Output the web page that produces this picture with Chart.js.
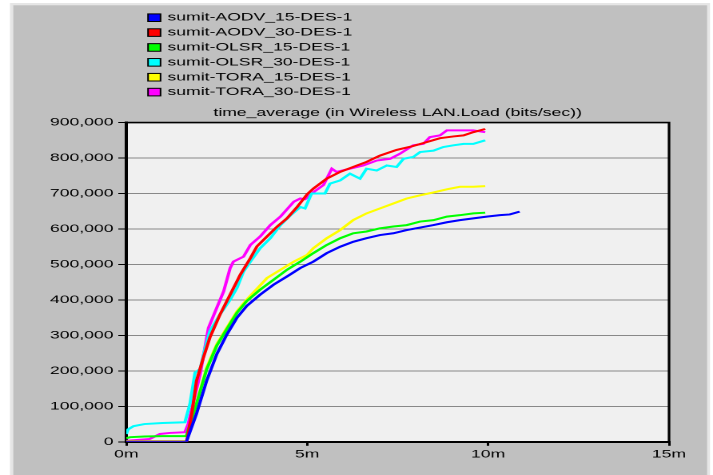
<!DOCTYPE html>
<html><head><meta charset="utf-8">
<script src="https://cdn.jsdelivr.net/npm/chart.js@4"></script>
<style>
html,body{margin:0;padding:0;background:#fff;width:713px;height:475px;overflow:hidden}
#wrap{width:446px;height:475px;transform:scaleX(1.59865);transform-origin:0 0}
canvas{display:block}
</style></head><body>
<div id="wrap"><canvas id="c" width="446" height="475" style="width:446px;height:475px"></canvas></div>
<script>
// ---- data (time in minutes, load in bits/sec) ----
const seriesLabels = ['sumit-AODV_15-DES-1','sumit-AODV_30-DES-1','sumit-OLSR_15-DES-1','sumit-OLSR_30-DES-1','sumit-TORA_15-DES-1','sumit-TORA_30-DES-1'];
const seriesColors = ['#0000ff','#ff0000','#00ff00','#00ffff','#ffff00','#ff00ff'];

const aodv15T = [0,1.66,1.94,2.22,2.5,2.78,3.06,3.33,3.70,4.07,4.44,4.81,5.17,5.54,5.91,6.27,6.64,7.01,7.38,7.75,8.12,8.49,8.86,9.22,9.59,9.96,10.33,10.6,10.87];
const aodv15V = [0,0,79000,172000,247000,303000,350000,383000,415000,443000,466000,490000,508000,532000,550000,564000,574000,583000,588000,597000,604000,611000,619000,625000,630000,635000,639000,641000,649000];

const aodv30T = [0,1.67,1.81,1.94,2.13,2.31,2.59,2.87,3.15,3.43,3.61,3.89,4.17,4.44,4.72,5.0,5.17,5.54,5.91,6.27,6.64,7.01,7.47,7.93,8.30,8.67,9.04,9.32,9.59,9.92];
const aodv30V = [0,0,79000,172000,237000,294000,359000,415000,471000,518000,551000,579000,607000,630000,662000,698000,714000,742000,761000,775000,789000,807000,823000,834000,845000,856000,861000,864000,873000,882000];

const olsr15T = [0,0.1,0.5,1.0,1.66,1.94,2.22,2.5,2.78,3.06,3.33,3.70,4.07,4.44,4.81,5.17,5.54,5.91,6.27,6.64,7.01,7.38,7.75,8.12,8.49,8.86,9.22,9.59,9.92];
const olsr15V = [10000,13000,15000,16000,16000,107000,204000,271000,318000,364000,397000,429000,457000,485000,508000,532000,555000,574000,588000,593000,602000,607000,611000,621000,625000,635000,639000,644000,646000];

const olsr30T = [0,0.05,0.2,0.5,1.0,1.62,1.76,1.90,2.04,2.18,2.31,2.59,2.87,3.06,3.24,3.43,3.70,3.98,4.26,4.54,4.81,4.94,5.12,5.49,5.63,5.91,6.18,6.46,6.64,6.92,7.20,7.47,7.66,7.93,8.12,8.49,8.76,9.04,9.32,9.59,9.92];
const olsr30V = [22000,35000,44000,50000,53000,55000,107000,195000,205000,265000,312000,359000,401000,434000,480000,508000,546000,574000,611000,639000,662000,658000,700000,700000,728000,737000,756000,742000,770000,765000,779000,775000,798000,803000,817000,821000,831000,836000,840000,840000,850000];

const tora15T = [0,1.66,1.94,2.22,2.5,2.78,3.06,3.33,3.80,3.89,4.26,4.63,5.0,5.17,5.54,5.91,6.27,6.64,7.01,7.38,7.75,8.12,8.49,8.86,9.22,9.59,9.92];
const tora15V = [2000,2000,107000,209000,275000,322000,368000,401000,452000,462000,485000,508000,527000,546000,574000,597000,625000,644000,658000,672000,686000,695000,703000,712000,719000,719000,721000];

const tora30T = [0,0.65,0.93,1.2,1.62,1.71,2.04,2.27,2.5,2.69,2.87,2.96,3.24,3.43,3.70,3.98,4.26,4.63,4.81,4.94,5.19,5.45,5.68,5.81,6.18,6.55,6.92,7.29,7.56,7.93,8.21,8.39,8.67,8.86,9.13,9.59,9.92];
const tora30V = [3000,8000,22000,25000,27000,50000,190000,321000,378000,424000,490000,508000,522000,555000,579000,611000,635000,677000,686000,684000,705000,724000,770000,761000,770000,779000,793000,798000,812000,836000,840000,859000,864000,878000,878000,878000,873000];

const xTickValues = [0,5,10,15];
const xTickSuffix = 'm';
const yTickStep = 100000;
const yMax = 900000;
const xMax = 15;
const chartTitle = 'time_average (in Wireless LAN.Load (bits/sec))';

// ---- build ----
const seriesT = [aodv15T,aodv30T,olsr15T,olsr30T,tora15T,tora30T];
const seriesV = [aodv15V,aodv30V,olsr15V,olsr30V,tora15V,tora30V];
const datasets = seriesLabels.map((lab,i)=>({
  label: lab,
  data: seriesT[i].map((t,j)=>({x:t,y:seriesV[i][j]})),
  borderColor: seriesColors[i],
  backgroundColor: seriesColors[i],
  borderWidth: 2,
  pointRadius: 0,
  tension: 0,
  fill: false
}));

const FONT = "'Liberation Sans', Arial, sans-serif";
Chart.defaults.font.family = FONT;
Chart.defaults.font.size = 11;
Chart.defaults.color = '#000';

const panelPlugin = {
  id: 'panel',
  beforeDraw(chart){
    const ctx = chart.ctx, W = chart.width, H = chart.height, S = 1.59865;
    ctx.save();
    ctx.fillStyle = '#ffffff'; ctx.fillRect(0,0,W,H);
    ctx.fillStyle = '#e6e6e6'; ctx.fillRect(10/S,3,(710-10)/S,H-3);
    ctx.fillStyle = '#c0c0c0'; ctx.fillRect(13.3/S,5.3,(707-13.3)/S,H-5.3);
    const a = chart.chartArea;
    ctx.fillStyle = '#f0f0f0'; ctx.fillRect(a.left,a.top,a.right-a.left,a.bottom-a.top);
    ctx.restore();
  },
  afterDatasetsDraw(chart){
    const ctx = chart.ctx, a = chart.chartArea;
    ctx.save();
    ctx.strokeStyle = '#000'; ctx.lineWidth = 1.6;
    ctx.beginPath();
    ctx.moveTo(a.left, a.top); ctx.lineTo(a.right, a.top); ctx.lineTo(a.right, a.bottom);
    ctx.stroke();
    ctx.restore();
  },
  afterDraw(chart){
    // legend block (vertical list, top-left)
    const ctx = chart.ctx;
    ctx.save();
    ctx.font = '11px ' + FONT;
    ctx.textBaseline = 'middle';
    ctx.textAlign = 'left';
    chart.data.datasets.forEach((ds,i)=>{
      const cy = 17.7 + i*14.88;
      ctx.fillStyle = ds.borderColor;
      ctx.fillRect(92.6, cy-3.8, 7.8, 7.6);
      ctx.strokeStyle = '#000'; ctx.lineWidth = 1;
      ctx.strokeRect(92.6, cy-3.8, 7.8, 7.6);
      ctx.fillStyle = '#000';
      ctx.fillText(ds.label, 104.8, cy);
    });
    ctx.restore();
  }
};

new Chart(document.getElementById('c'), {
  type: 'line',
  data: { datasets },
  plugins: [panelPlugin],
  options: {
    responsive: false,
    animation: false,
    devicePixelRatio: 2,
    layout: { padding: { left: 0, right: 27.5, top: 106.4, bottom: 12 } },
    plugins: {
      legend: { display: false },
      tooltip: { enabled: false },
      title: {
        display: true, text: chartTitle, fullSize: false,
        font: { size: 11, weight: 'normal', family: FONT }, color: '#000',
        padding: { top: 0, bottom: 3 }
      }
    },
    scales: {
      x: {
        type: 'linear', min: 0, max: xMax,
        afterBuildTicks(scale){ scale.ticks = xTickValues.map(v=>({value:v})); },
        ticks: { callback: v => v + xTickSuffix, padding: 2, maxRotation: 0, color:'#000' },
        grid: { drawOnChartArea: false, drawTicks: true, tickLength: 4, color: '#000', lineWidth: 1.5 },
        border: { display: true, color: '#000', width: 2 }
      },
      y: {
        min: 0, max: yMax,
        afterFit(scale){ scale.width = 79; },
        ticks: { stepSize: yTickStep, padding: 3, color:'#000', callback: v => Number(v).toLocaleString('en-US') },
        grid: { color: '#888888', lineWidth: 1, tickColor: '#000', tickLength: 5, drawTicks: true },
        border: { display: true, color: '#000', width: 2 }
      }
    }
  }
});
</script>
</body></html>
